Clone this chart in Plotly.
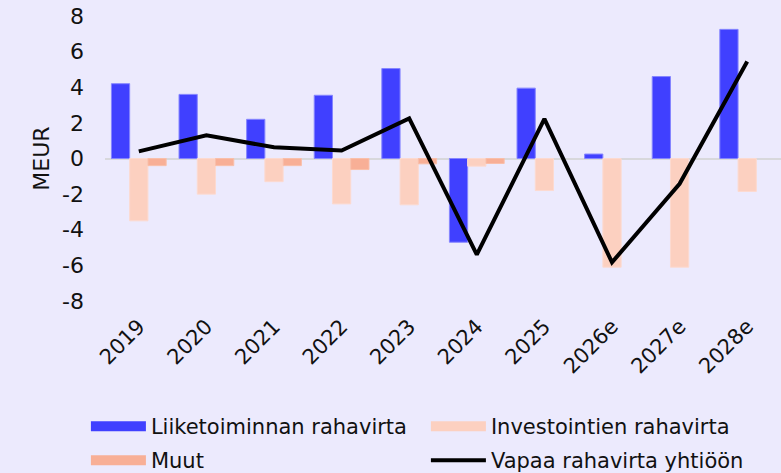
import plotly.graph_objects as go

years = ["2019", "2020", "2021", "2022", "2023", "2024", "2025", "2026e", "2027e", "2028e"]
liiketoiminta = [4.2, 3.6, 2.2, 3.55, 5.05, -4.7, 3.95, 0.25, 4.6, 7.25]
investoinnit = [-3.5, -2.0, -1.3, -2.55, -2.6, -0.43, -1.8, -6.1, -6.1, -1.85]
muut = [-0.4, -0.4, -0.4, -0.62, -0.3, -0.28, None, None, None, None]
vapaa = [0.4, 1.3, 0.63, 0.45, 2.25, -5.4, 2.22, -5.83, -1.42, 5.45]
y_tickvals = [-8, -6, -4, -2, 0, 2, 4, 6, 8]
y_ticktext = ["-8", "-6", "-4", "-2", "0", "2", "4", "6", "8"]

BG = "#ECEAFD"
BLUE = "#4040FF"
INV = "#FCD0C0"
MUUT = "#F8AF96"
FONT = "DejaVu Sans"

fig = go.Figure()
fig.add_trace(go.Bar(x=years, y=liiketoiminta, name="Liiketoiminnan rahavirta",
                     marker=dict(color=BLUE, line=dict(color="#8585FF", width=1)),
                     showlegend=False))
fig.add_trace(go.Bar(x=years, y=investoinnit, name="Investointien rahavirta",
                     marker=dict(color=INV, line=dict(color="#FCDAD0", width=1)),
                     showlegend=False))
fig.add_trace(go.Bar(x=years, y=muut, name="Muut",
                     marker=dict(color=MUUT, line=dict(color="#F9BFAA", width=1)),
                     showlegend=False))
fig.add_trace(go.Scatter(x=years, y=vapaa, mode="lines", name="Vapaa rahavirta yhtiöön",
                         line=dict(color="black", width=4), showlegend=False))

# legend entries (wide swatches), two rows via two legends
legend_items = [("Liiketoiminnan rahavirta", BLUE, 13, "legend"),
                ("Investointien rahavirta", INV, 13, "legend"),
                ("Muut", MUUT, 13, "legend2"),
                ("Vapaa rahavirta yhtiöön", "black", 4, "legend2")]
for name, col, w, lg in legend_items:
    fig.add_trace(go.Scatter(x=[None], y=[None], mode="lines", name=name,
                             line=dict(color=col, width=w), showlegend=True, legend=lg))

leg_common = dict(orientation="h", xref="container", yref="container",
                  x=0.110, xanchor="left", yanchor="top",
                  entrywidth=270, entrywidthmode="pixels", itemwidth=55,
                  font=dict(size=21), bgcolor="rgba(0,0,0,0)")

fig.update_layout(
    width=781, height=473,
    paper_bgcolor=BG, plot_bgcolor=BG,
    margin=dict(l=105, r=0, t=16, b=172, autoexpand=False),
    font=dict(family=FONT, size=20, color="#111111"),
    barmode="group", bargap=0.19, bargroupgap=0,
    legend=dict(**leg_common, y=0.1416),
    legend2=dict(**leg_common, y=0.0698),
    showlegend=True,
)
fig.update_xaxes(tickangle=-45, showgrid=False, showline=False, ticks="",
                 ticklabelstandoff=8, tickfont=dict(size=21), automargin=False)
fig.update_yaxes(range=[-8, 8], tickvals=y_tickvals, ticktext=y_ticktext,
                 showgrid=False, zeroline=True,
                 zerolinecolor="#D8D8DC", zerolinewidth=2, ticks="",
                 ticklabelstandoff=20, tickfont=dict(size=22), automargin=False,
                 title=dict(text="MEUR", font=dict(size=22), standoff=6))

fig.write_html("out.html", config={"displayModeBar": False},
               post_script="document.body.style.margin='0';document.body.style.padding='0';")
